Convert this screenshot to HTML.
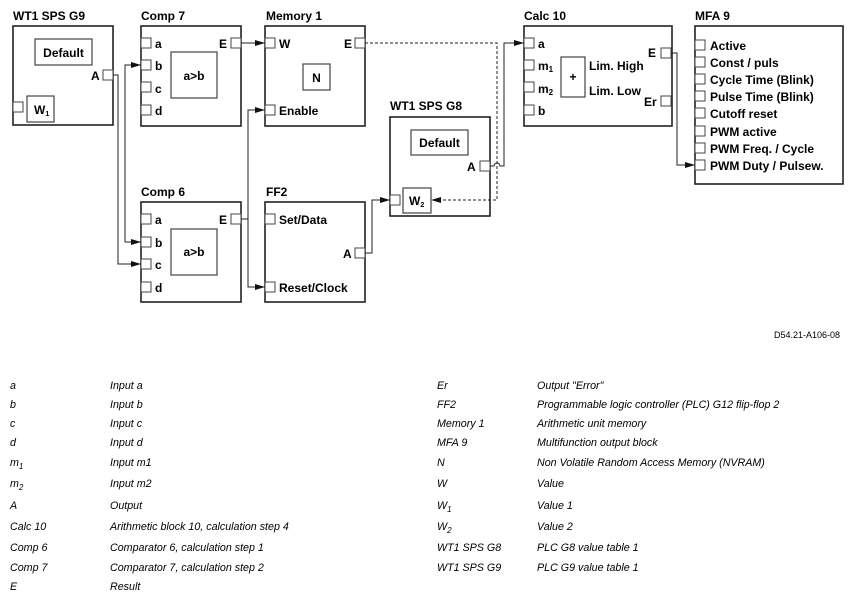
<!DOCTYPE html>
<html><head><meta charset="utf-8"><style>
body{margin:0;background:#fff;width:855px;height:600px;overflow:hidden}
svg{display:block}
.t{font-family:"Liberation Sans",Arial,sans-serif;font-weight:bold;font-size:12px;fill:#000}
.l{font-family:"Liberation Sans",Arial,sans-serif;font-style:italic;font-size:10.7px;fill:#000}
.b{fill:#fff;stroke:#222;stroke-width:1.6}
.i{fill:#fff;stroke:#444;stroke-width:1.2}
.p{fill:#fff;stroke:#444;stroke-width:1}
.c{fill:none;stroke:#222;stroke-width:1}
.d{fill:none;stroke:#222;stroke-width:1;stroke-dasharray:3,2}
</style></head><body>
<svg width="855" height="600" viewBox="0 0 855 600">
<defs><marker id="ar" markerWidth="10" markerHeight="6" refX="10" refY="3" orient="auto" markerUnits="userSpaceOnUse"><path d="M0,0 L10,3 L0,6 z" fill="#111"/></marker></defs>

<text class="t" x="13" y="20">WT1 SPS G9</text>
<rect class="b" x="13" y="26" width="100" height="99"/>
<rect class="i" x="35" y="39" width="57" height="26"/>
<text class="t" x="63.5" y="57" text-anchor="middle">Default</text>
<rect class="p" x="103" y="70" width="10" height="10"/>
<text class="t" x="91" y="80">A</text>
<rect class="p" x="13" y="102" width="10" height="10"/>
<rect class="i" x="27" y="96" width="27" height="26"/>
<text class="t" x="34" y="114">W<tspan font-size="7" dy="2">1</tspan></text>

<text class="t" x="141" y="20">Comp 7</text>
<rect class="b" x="141" y="26" width="100" height="100"/>
<rect class="i" x="171" y="52" width="46" height="46"/>
<text class="t" x="194" y="80" text-anchor="middle">a&gt;b</text>
<rect class="p" x="141" y="38" width="10" height="10"/><text class="t" x="155" y="48">a</text>
<rect class="p" x="141" y="60" width="10" height="10"/><text class="t" x="155" y="70">b</text>
<rect class="p" x="141" y="82" width="10" height="10"/><text class="t" x="155" y="93">c</text>
<rect class="p" x="141" y="105" width="10" height="10"/><text class="t" x="155" y="115">d</text>
<rect class="p" x="231" y="38" width="10" height="10"/><text class="t" x="219" y="48">E</text>

<text class="t" x="266" y="20">Memory 1</text>
<rect class="b" x="265" y="26" width="100" height="100"/>
<rect class="p" x="265" y="38" width="10" height="10"/><text class="t" x="279" y="48">W</text>
<rect class="p" x="355" y="38" width="10" height="10"/><text class="t" x="344" y="48">E</text>
<rect class="i" x="303" y="64" width="27" height="26"/>
<text class="t" x="316.5" y="82" text-anchor="middle">N</text>
<rect class="p" x="265" y="105" width="10" height="10"/><text class="t" x="279" y="115">Enable</text>

<text class="t" x="141" y="196">Comp 6</text>
<rect class="b" x="141" y="202" width="100" height="100"/>
<rect class="i" x="171" y="229" width="46" height="46"/>
<text class="t" x="194" y="256" text-anchor="middle">a&gt;b</text>
<rect class="p" x="141" y="214" width="10" height="10"/><text class="t" x="155" y="224">a</text>
<rect class="p" x="141" y="237" width="10" height="10"/><text class="t" x="155" y="247">b</text>
<rect class="p" x="141" y="259" width="10" height="10"/><text class="t" x="155" y="269">c</text>
<rect class="p" x="141" y="282" width="10" height="10"/><text class="t" x="155" y="292">d</text>
<rect class="p" x="231" y="214" width="10" height="10"/><text class="t" x="219" y="224">E</text>

<text class="t" x="266" y="196">FF2</text>
<rect class="b" x="265" y="202" width="100" height="100"/>
<rect class="p" x="265" y="214" width="10" height="10"/><text class="t" x="279" y="224">Set/Data</text>
<rect class="p" x="355" y="248" width="10" height="10"/><text class="t" x="343" y="258">A</text>
<rect class="p" x="265" y="282" width="10" height="10"/><text class="t" x="279" y="292">Reset/Clock</text>

<text class="t" x="390" y="110">WT1 SPS G8</text>
<rect class="b" x="390" y="117" width="100" height="99"/>
<rect class="i" x="411" y="130" width="57" height="25"/>
<text class="t" x="439.5" y="147" text-anchor="middle">Default</text>
<rect class="p" x="480" y="161" width="10" height="10"/><text class="t" x="467" y="171">A</text>
<rect class="p" x="390" y="195" width="10" height="10"/>
<rect class="i" x="403" y="188" width="28" height="25"/>
<text class="t" x="409" y="205">W<tspan font-size="7" dy="2">2</tspan></text>

<text class="t" x="524" y="20">Calc 10</text>
<rect class="b" x="524" y="26" width="148" height="100"/>
<rect class="p" x="524" y="38" width="10" height="10"/><text class="t" x="538" y="48">a</text>
<rect class="p" x="524" y="60" width="10" height="10"/><text class="t" x="538" y="70">m<tspan font-size="8" dy="2">1</tspan></text>
<rect class="p" x="524" y="82" width="10" height="10"/><text class="t" x="538" y="93">m<tspan font-size="8" dy="2">2</tspan></text>
<rect class="p" x="524" y="105" width="10" height="10"/><text class="t" x="538" y="115">b</text>
<rect class="i" x="561" y="57" width="24" height="40"/>
<text class="t" x="573" y="81" text-anchor="middle" font-size="10">+</text>
<text class="t" x="589" y="70">Lim. High</text>
<text class="t" x="589" y="95">Lim. Low</text>
<rect class="p" x="661" y="48" width="10" height="10"/><text class="t" x="648" y="57">E</text>
<rect class="p" x="661" y="96" width="10" height="10"/><text class="t" x="644" y="106">Er</text>

<text class="t" x="695" y="20">MFA 9</text>
<rect class="b" x="695" y="26" width="148" height="158"/>
<g>
<rect class="p" x="695" y="40" width="10" height="10"/><text class="t" x="710" y="50">Active</text>
<rect class="p" x="695" y="57" width="10" height="10"/><text class="t" x="710" y="67">Const / puls</text>
<rect class="p" x="695" y="74" width="10" height="10"/><text class="t" x="710" y="84">Cycle Time (Blink)</text>
<rect class="p" x="695" y="91" width="10" height="10"/><text class="t" x="710" y="101">Pulse Time (Blink)</text>
<rect class="p" x="695" y="108" width="10" height="10"/><text class="t" x="710" y="118">Cutoff reset</text>
<rect class="p" x="695" y="126" width="10" height="10"/><text class="t" x="710" y="136">PWM active</text>
<rect class="p" x="695" y="143" width="10" height="10"/><text class="t" x="710" y="153">PWM Freq. / Cycle</text>
<rect class="p" x="695" y="160" width="10" height="10"/><text class="t" x="710" y="170">PWM Duty / Pulsew.</text>
</g>

<path class="c" d="M113,75 H118 V264 H141" marker-end="url(#ar)"/>
<path class="c" d="M125,242 V65 H141" marker-end="url(#ar)"/>
<path class="c" d="M125,242 H141" marker-end="url(#ar)"/>
<path class="c" d="M241,43 H265" marker-end="url(#ar)"/>
<path class="c" d="M241,219 H248 V110 H265" marker-end="url(#ar)"/>
<path class="c" d="M248,219 V287 H265" marker-end="url(#ar)"/>
<path class="c" d="M365,253 H372 V200 H390" marker-end="url(#ar)"/>
<path class="d" d="M365,43 H497 V200 H431" marker-end="url(#ar)"/>
<path class="c" d="M490,166 H494 A3,3 0 0 1 500,166 H504 V43 H524" marker-end="url(#ar)"/>
<path class="c" d="M671,53 H677 V165 H695" marker-end="url(#ar)"/>

<text x="840" y="338" text-anchor="end" font-family="Liberation Sans,Arial,sans-serif" font-size="9">D54.21-A106-08</text>

<g class="l">
<text class="l" x="10" y="389">a</text><text class="l" x="110" y="389">Input a</text>
<text class="l" x="10" y="408">b</text><text class="l" x="110" y="408">Input b</text>
<text class="l" x="10" y="427">c</text><text class="l" x="110" y="427">Input c</text>
<text class="l" x="10" y="446">d</text><text class="l" x="110" y="446">Input d</text>
<text class="l" x="10" y="466">m<tspan font-size="8" dy="3">1</tspan></text><text class="l" x="110" y="466">Input m1</text>
<text class="l" x="10" y="487">m<tspan font-size="8" dy="3">2</tspan></text><text class="l" x="110" y="487">Input m2</text>
<text class="l" x="10" y="509">A</text><text class="l" x="110" y="509">Output</text>
<text class="l" x="10" y="530">Calc 10</text><text class="l" x="110" y="530">Arithmetic block 10, calculation step 4</text>
<text class="l" x="10" y="551">Comp 6</text><text class="l" x="110" y="551">Comparator 6, calculation step 1</text>
<text class="l" x="10" y="571">Comp 7</text><text class="l" x="110" y="571">Comparator 7, calculation step 2</text>
<text class="l" x="10" y="590">E</text><text class="l" x="110" y="590">Result</text>

<text class="l" x="437" y="389">Er</text><text class="l" x="537" y="389">Output "Error"</text>
<text class="l" x="437" y="408">FF2</text><text class="l" x="537" y="408">Programmable logic controller (PLC) G12 flip-flop 2</text>
<text class="l" x="437" y="427">Memory 1</text><text class="l" x="537" y="427">Arithmetic unit memory</text>
<text class="l" x="437" y="446">MFA 9</text><text class="l" x="537" y="446">Multifunction output block</text>
<text class="l" x="437" y="466">N</text><text class="l" x="537" y="466">Non Volatile Random Access Memory (NVRAM)</text>
<text class="l" x="437" y="487">W</text><text class="l" x="537" y="487">Value</text>
<text class="l" x="437" y="509">W<tspan font-size="8" dy="3">1</tspan></text><text class="l" x="537" y="509">Value 1</text>
<text class="l" x="437" y="530">W<tspan font-size="8" dy="3">2</tspan></text><text class="l" x="537" y="530">Value 2</text>
<text class="l" x="437" y="551">WT1 SPS G8</text><text class="l" x="537" y="551">PLC G8 value table 1</text>
<text class="l" x="437" y="571">WT1 SPS G9</text><text class="l" x="537" y="571">PLC G9 value table 1</text>
</g>
</svg>
</body></html>
